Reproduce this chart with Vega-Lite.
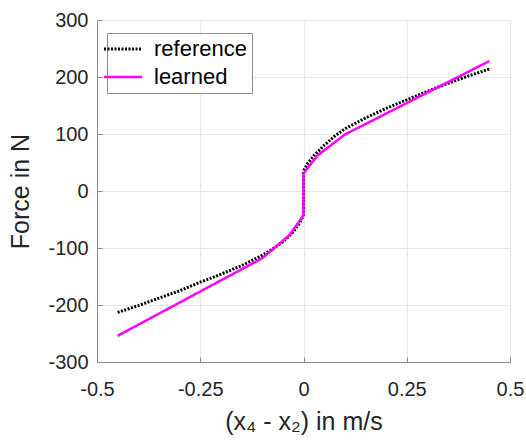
{
  "$schema": "https://vega.github.io/schema/vega-lite/v6.json",
  "width": 413,
  "height": 342,
  "autosize": {"type": "none"},
  "padding": {"left": 97, "top": 20, "right": 16, "bottom": 81},
  "background": "white",
  "config": {
    "font": "Liberation Sans",
    "view": {"stroke": null}
  },
  "data": {
    "values": [
      {"i": 1, "v": -0.45, "F": -213, "series": "reference"},
      {"i": 2, "v": -0.4, "F": -201, "series": "reference"},
      {"i": 3, "v": -0.35, "F": -188, "series": "reference"},
      {"i": 4, "v": -0.3, "F": -175, "series": "reference"},
      {"i": 5, "v": -0.25, "F": -160, "series": "reference"},
      {"i": 6, "v": -0.2, "F": -146, "series": "reference"},
      {"i": 7, "v": -0.15, "F": -131, "series": "reference"},
      {"i": 8, "v": -0.1, "F": -113, "series": "reference"},
      {"i": 9, "v": -0.075, "F": -102, "series": "reference"},
      {"i": 10, "v": -0.05, "F": -89, "series": "reference"},
      {"i": 11, "v": -0.025, "F": -72, "series": "reference"},
      {"i": 12, "v": -0.01, "F": -57, "series": "reference"},
      {"i": 13, "v": 0, "F": -42, "series": "reference"},
      {"i": 14, "v": 0, "F": 35, "series": "reference"},
      {"i": 15, "v": 0.01, "F": 48, "series": "reference"},
      {"i": 16, "v": 0.025, "F": 62, "series": "reference"},
      {"i": 17, "v": 0.05, "F": 80, "series": "reference"},
      {"i": 18, "v": 0.075, "F": 96, "series": "reference"},
      {"i": 19, "v": 0.1, "F": 109, "series": "reference"},
      {"i": 20, "v": 0.15, "F": 128, "series": "reference"},
      {"i": 21, "v": 0.2, "F": 145, "series": "reference"},
      {"i": 22, "v": 0.25, "F": 160, "series": "reference"},
      {"i": 23, "v": 0.3, "F": 175, "series": "reference"},
      {"i": 24, "v": 0.35, "F": 189, "series": "reference"},
      {"i": 25, "v": 0.4, "F": 202, "series": "reference"},
      {"i": 26, "v": 0.45, "F": 214, "series": "reference"},
      {"i": 1, "v": -0.45, "F": -254, "series": "learned"},
      {"i": 2, "v": -0.1, "F": -118, "series": "learned"},
      {"i": 3, "v": -0.035, "F": -78, "series": "learned"},
      {"i": 4, "v": -0.003, "F": -46, "series": "learned"},
      {"i": 5, "v": 0, "F": -42, "series": "learned"},
      {"i": 6, "v": 0, "F": 31, "series": "learned"},
      {"i": 7, "v": 0.035, "F": 63, "series": "learned"},
      {"i": 8, "v": 0.1, "F": 99, "series": "learned"},
      {"i": 9, "v": 0.45, "F": 228, "series": "learned"}
    ]
  },
  "mark": {"type": "line", "clip": true},
  "encoding": {
    "x": {
      "field": "v", "type": "quantitative",
      "scale": {"domain": [-0.5, 0.5], "nice": false, "zero": false},
      "axis": {
        "values": [-0.5, -0.25, 0, 0.25, 0.5],
        "labelExpr": "'' + datum.value",
        "title": "(x₄ - x₂) in m/s",
        "titleFontSize": 25, "titleFontWeight": "normal", "titleColor": "#262626",
        "titlePadding": 10,
        "labelFontSize": 20, "labelColor": "#262626", "labelPadding": 22,
        "labelFlush": false,
        "domainColor": "#8c8c8c", "tickColor": "#8c8c8c", "tickSize": -5,
        "grid": true, "gridColor": "#e6e6e6"
      }
    },
    "y": {
      "field": "F", "type": "quantitative",
      "scale": {"domain": [-300, 300], "nice": false, "zero": false},
      "axis": {
        "values": [-300, -200, -100, 0, 100, 200, 300],
        "labelExpr": "'' + datum.value",
        "title": "Force in N",
        "titleFontSize": 25, "titleFontWeight": "normal", "titleColor": "#262626",
        "titlePadding": 14,
        "labelFontSize": 20, "labelColor": "#262626", "labelPadding": 14,
        "domainColor": "#8c8c8c", "tickColor": "#8c8c8c", "tickSize": -5,
        "grid": true, "gridColor": "#e6e6e6"
      }
    },
    "order": {"field": "i", "type": "quantitative"},
    "color": {
      "field": "series", "type": "nominal",
      "scale": {"domain": ["reference", "learned"], "range": ["#000000", "#ff00ff"]},
      "legend": {
        "title": null,
        "orient": "none", "legendX": 10, "legendY": 13,
        "symbolType": "M-2,0H2", "symbolSize": 361, "symbolStrokeWidth": 2.5,
        "labelFontSize": 22, "labelColor": "#000000", "labelOffset": 20,
        "rowPadding": 6, "padding": 5,
        "strokeColor": "#8c8c8c", "fillColor": "white"
      }
    },
    "strokeDash": {
      "field": "series", "type": "nominal",
      "scale": {"domain": ["reference", "learned"], "range": [[2, 1.5], [1, 0]]},
      "legend": null
    },
    "strokeWidth": {
      "field": "series", "type": "nominal",
      "scale": {"domain": ["reference", "learned"], "range": [3, 2.5]},
      "legend": null
    }
  }
}
